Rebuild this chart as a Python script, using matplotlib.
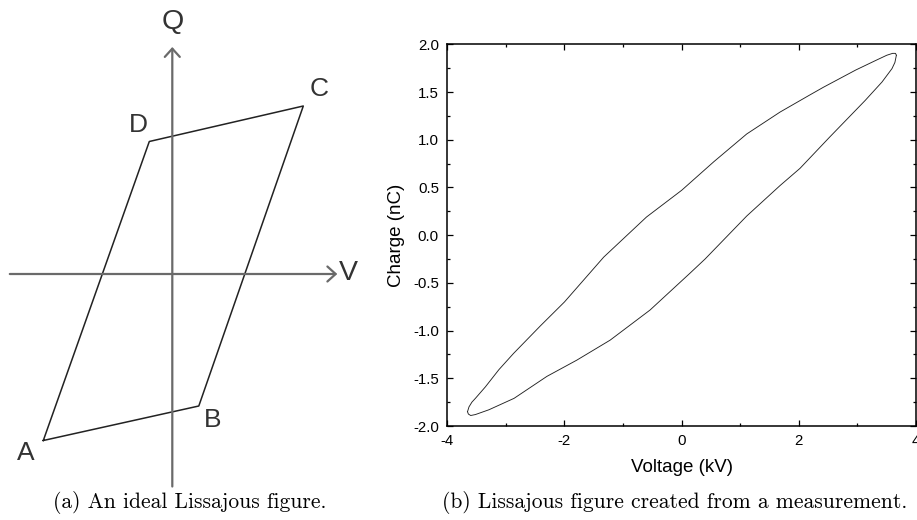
import numpy as np
import matplotlib.pyplot as plt
from matplotlib.ticker import MultipleLocator, FormatStrFormatter

plt.rcParams['font.family'] = ['Liberation Sans', 'DejaVu Sans']
plt.rcParams['axes.unicode_minus'] = False

# --- (a) ideal Lissajous figure, schematic units (V, Q) ---
corner_names = ['A', 'B', 'C', 'D']
corner_v = [-2.58, 0.53, 2.62, -0.46]
corner_q = [-3.33, -2.64, 3.36, 2.65]
label_v = [-2.93, 0.80, 2.93, -0.68]
label_q = [-3.59, -2.92, 3.70, 2.97]
v_axis = (-3.25, 3.30)
q_axis = (-4.25, 4.54)

# --- (b) measured loop: voltage (kV) / charge (nC) ---
upper_v = [-3.655, -3.63, -3.58, -3.52, -3.35, -3.12, -2.87, -2.41, -2.00, -1.33, -0.60,
           0.00, 0.55, 1.11, 1.68, 2.19, 2.42, 2.97, 3.31, 3.50, 3.60, 3.65, 3.665]
upper_q = [-1.85, -1.80, -1.75, -1.71, -1.59, -1.41, -1.24, -0.95, -0.70, -0.23, 0.19,
           0.47, 0.77, 1.06, 1.29, 1.47, 1.55, 1.73, 1.83, 1.885, 1.905, 1.905, 1.885]
lower_v = [-3.655, -3.64, -3.60, -3.52, -3.29, -2.86, -2.30, -1.79, -1.22, -0.54, 0.14,
           0.40, 1.11, 1.68, 2.02, 2.53, 3.13, 3.42, 3.59, 3.64, 3.665]
lower_q = [-1.85, -1.875, -1.89, -1.88, -1.83, -1.71, -1.48, -1.31, -1.10, -0.785, -0.40,
           -0.25, 0.20, 0.52, 0.70, 1.03, 1.41, 1.605, 1.745, 1.81, 1.885]

fig = plt.figure(figsize=(9.17, 5.2), dpi=100)

# left panel: schematic drawn in its own unit system
ax1 = fig.add_axes([0, 0, 360 / 917, 1])
ax1.set_xlim(-172.3 / 50, (360 - 172.3) / 50)
ax1.set_ylim((274 - 520) / 50, 274 / 50)
ax1.axis('off')

axis_col = '#6a6a6a'
arrow = dict(arrowstyle='->, head_length=0.22, head_width=0.2', color=axis_col,
             lw=1.6, mutation_scale=27, shrinkA=0, shrinkB=0)
ax1.annotate('', xy=(v_axis[1], 0), xytext=(v_axis[0], 0), arrowprops=arrow)
ax1.annotate('', xy=(0, q_axis[1]), xytext=(0, q_axis[0]), arrowprops=arrow)

ax1.plot(corner_v + corner_v[:1], corner_q + corner_q[:1], color='#222222', lw=1.1)
for name, lv, lq in zip(corner_names, label_v, label_q):
    ax1.text(lv, lq, name, fontsize=19, color='#333333', ha='center', va='center')
ax1.text(0, 5.04, 'Q', fontsize=20.5, color='#333333', ha='center', va='center')
ax1.text(3.53, 0.02, 'V', fontsize=20.5, color='#333333', ha='center', va='center')

# right panel: measurement
ax2 = fig.add_axes([447.3 / 917, (520 - 426) / 520, (916 - 447.3) / 917, (426 - 44.3) / 520])
ax2.plot(upper_v, upper_q, color='#222222', lw=0.65)
ax2.plot(lower_v, lower_q, color='#222222', lw=0.65)
ax2.set_xlim(-4, 4)
ax2.set_ylim(-2, 2)
ax2.xaxis.set_major_locator(MultipleLocator(2))
ax2.xaxis.set_minor_locator(MultipleLocator(1))
ax2.yaxis.set_major_locator(MultipleLocator(0.5))
ax2.yaxis.set_minor_locator(MultipleLocator(0.25))
ax2.yaxis.set_major_formatter(FormatStrFormatter('%.1f'))
ax2.tick_params(which='both', direction='in', top=True, right=True, width=0.9)
ax2.tick_params(which='major', length=4, labelsize=10.8, pad=6)
ax2.tick_params(which='minor', length=2.3)
for sp in ax2.spines.values():
    sp.set_linewidth(1.1)
ax2.set_xlabel('Voltage (kV)', fontsize=13.5, labelpad=8)
ax2.set_ylabel('Charge (nC)', fontsize=13.5, labelpad=6)

# captions
fig.text(190 / 917, 1 - 503 / 520, '(a) An ideal Lissajous figure.', family='cmr10',
         fontsize=15.5, ha='center', va='center')
fig.text(675 / 917, 1 - 503 / 520, '(b) Lissajous figure created from a measurement.',
         family='cmr10', fontsize=15.5, ha='center', va='center')

fig.savefig('out.png', dpi=100)
